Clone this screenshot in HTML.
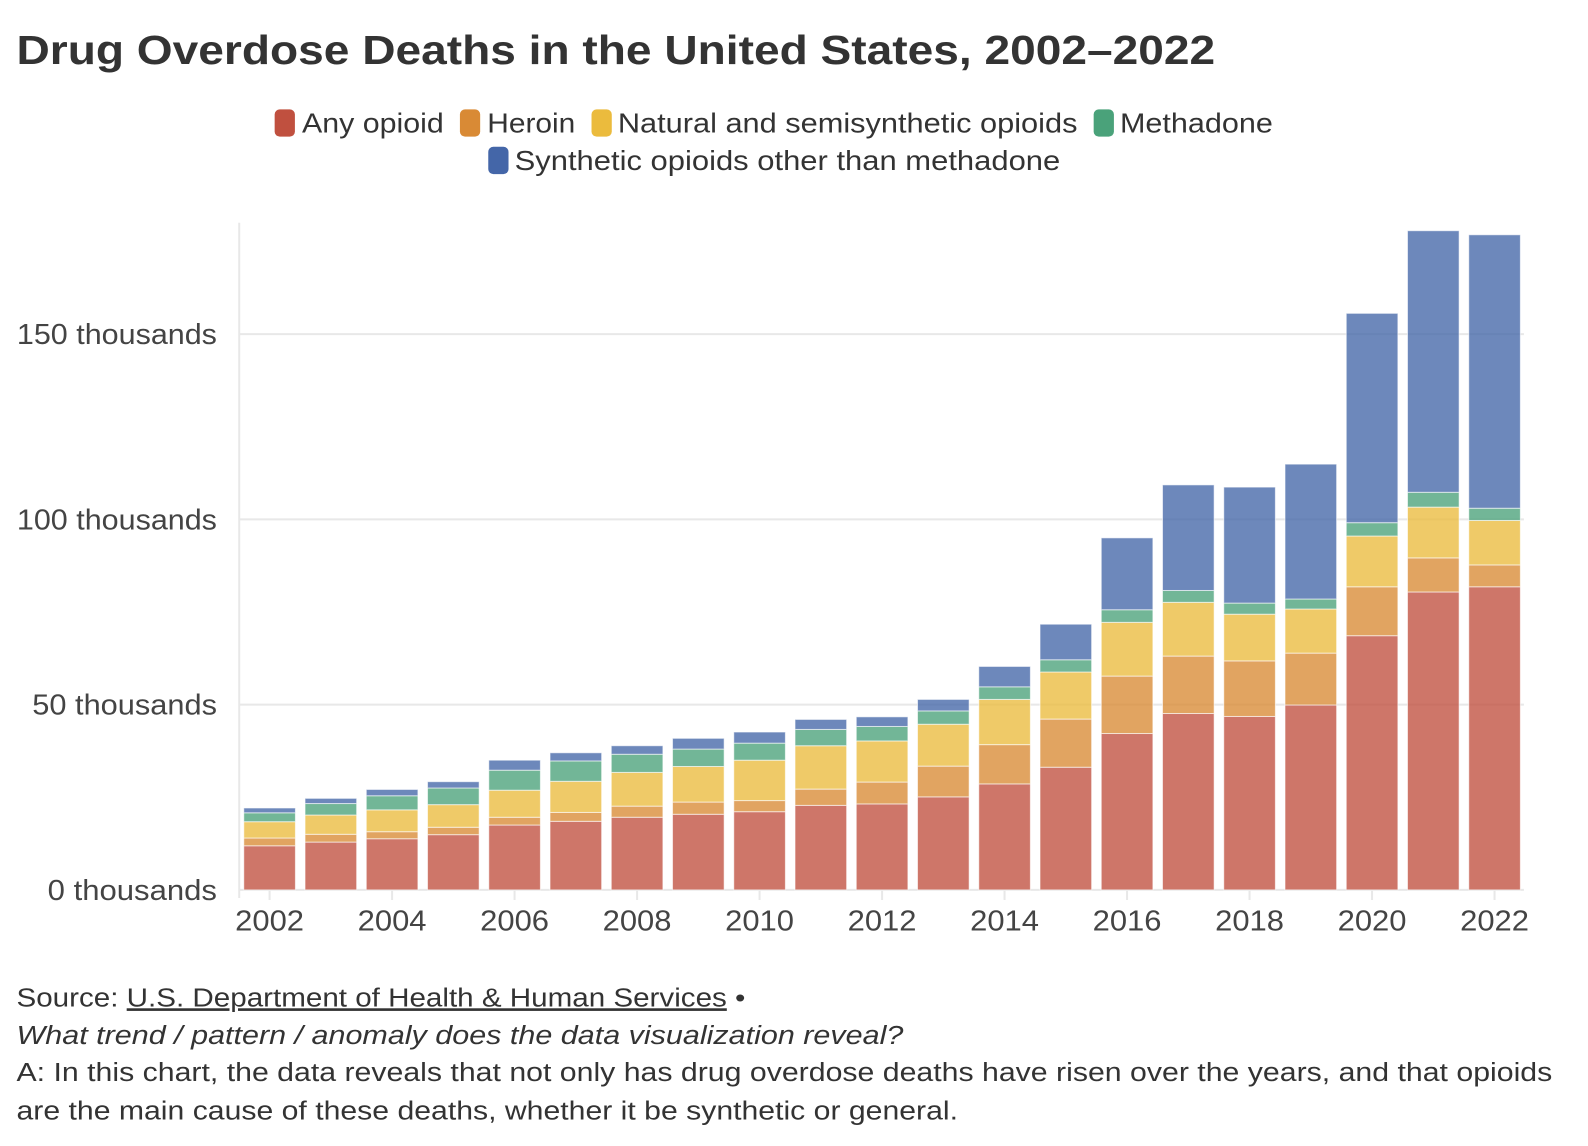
<!DOCTYPE html>
<html><head><meta charset="utf-8"><style>
html,body{margin:0;padding:0;background:#fff;}
svg{display:block;font-family:"Liberation Sans",sans-serif;}
</style></head><body>
<svg id="chart" width="1588" height="1146" viewBox="0 0 1568 1132" xmlns="http://www.w3.org/2000/svg">
<text x="16" y="63" font-size="40" font-weight="bold" fill="#333" textLength="1184" lengthAdjust="spacingAndGlyphs">Drug Overdose Deaths in the United States, 2002–2022</text>
<g font-size="27" fill="#333">
  <g><rect x="271" y="108" width="20" height="27" rx="5" fill="#c0503f"/><text x="298" y="131" textLength="140" lengthAdjust="spacingAndGlyphs">Any opioid</text></g>
  <g><rect x="454" y="108" width="20" height="27" rx="5" fill="#d98a35"/><text x="481" y="131" textLength="87" lengthAdjust="spacingAndGlyphs">Heroin</text></g>
  <g><rect x="584" y="108" width="20" height="27" rx="5" fill="#ebbb3d"/><text x="610" y="131" textLength="454" lengthAdjust="spacingAndGlyphs">Natural and semisynthetic opioids</text></g>
  <g><rect x="1080" y="108" width="20" height="27" rx="5" fill="#4aa27a"/><text x="1106" y="131" textLength="151" lengthAdjust="spacingAndGlyphs">Methadone</text></g>
  <g><rect x="482" y="145" width="20" height="27" rx="5" fill="#4466a8"/><text x="508" y="168" textLength="539" lengthAdjust="spacingAndGlyphs">Synthetic opioids other than methadone</text></g>
</g>
<g id="grid"></g>
<g id="bars"></g>
<g id="axes"></g>
<g font-size="26" fill="#333">
  <text x="16" y="994" textLength="720" lengthAdjust="spacingAndGlyphs">Source: <tspan text-decoration="underline">U.S. Department of Health &amp; Human Services</tspan> •</text>
  <text x="16" y="1031" font-style="italic" textLength="876" lengthAdjust="spacingAndGlyphs">What trend / pattern / anomaly does the data visualization reveal?</text>
  <text x="16" y="1068" textLength="1517" lengthAdjust="spacingAndGlyphs">A: In this chart, the data reveals that not only has drug overdose deaths have risen over the years, and that opioids</text>
  <text x="16" y="1106" textLength="930" lengthAdjust="spacingAndGlyphs">are the main cause of these deaths, whether it be synthetic or general.</text>
</g>
</svg>
<script>
const years = [2002,2003,2004,2005,2006,2007,2008,2009,2010,2011,2012,2013,2014,2015,2016,2017,2018,2019,2020,2021,2022];
const anyOpioid = [11.9,12.9,13.8,14.9,17.5,18.5,19.6,20.4,21.1,22.8,23.2,25.1,28.6,33.1,42.2,47.6,46.8,49.9,68.6,80.4,81.8];
const heroin = [2.1,2.1,1.9,2.0,2.1,2.4,3.0,3.3,3.0,4.4,5.9,8.3,10.6,13.0,15.5,15.5,15.0,14.0,13.2,9.2,5.9];
const natural = [4.4,5.2,5.9,6.1,7.3,8.4,9.1,9.6,10.9,11.7,11.1,11.3,12.2,12.7,14.5,14.5,12.6,11.9,13.7,13.7,12.0];
const methadone = [2.4,3.1,3.8,4.5,5.4,5.5,4.9,4.7,4.6,4.4,3.9,3.6,3.4,3.3,3.4,3.2,3.0,2.7,3.6,4.0,3.3];
const synthetic = [1.3,1.4,1.7,1.7,2.7,2.2,2.3,2.9,3.0,2.7,2.6,3.1,5.5,9.6,19.4,28.5,31.3,36.4,56.5,70.6,73.8];
const yTicks = [0,50,100,150];
const xTickYears = [2002,2004,2006,2008,2010,2012,2014,2016,2018,2020,2022];

const NS = "http://www.w3.org/2000/svg";
const x0 = 236, x1 = 1505, baseY = 879, pxPerK = 3.66;
const y = v => baseY - v * pxPerK;
const xc = yr => 266 + (yr - 2002) * 60.5;
const bw = 51;
function mk(tag, attrs, parent){ const e = document.createElementNS(NS, tag); for (const k in attrs) e.setAttribute(k, attrs[k]); parent.appendChild(e); return e; }

const grid = document.getElementById('grid');
const axes = document.getElementById('axes');
const bars = document.getElementById('bars');
yTicks.forEach(t => {
  const l = mk('line', {x1: x0, x2: x1, y1: y(t), y2: y(t), stroke: '#e8e8e8', 'stroke-width': 2}, grid);
  
  
  const label = t + ' thousands';
  const tx = mk('text', {x: 214, y: y(t) + 10, 'text-anchor': 'end', 'font-size': 28, fill: '#444', textLength: label.length * 15.2, lengthAdjust: 'spacingAndGlyphs'}, axes);
  
  
  tx.textContent = label;
});
const yAxis = mk('line', {x1: x0, x2: x0, y1: 220, y2: baseY + 8, stroke: '#e8e8e8', 'stroke-width': 2}, grid);


xTickYears.forEach(yr => {
  const tk = mk('line', {x1: xc(yr), x2: xc(yr), y1: baseY, y2: baseY + 10, stroke: '#e8e8e8', 'stroke-width': 2}, grid);
  
  
  const tx = mk('text', {x: xc(yr), y: 919, 'text-anchor': 'middle', 'font-size': 28, fill: '#444', textLength: 68, lengthAdjust: 'spacingAndGlyphs'}, axes);
  
  
  tx.textContent = yr;
});
const series = [
  ['any-opioid', anyOpioid, '#c0503f'],
  ['heroin', heroin, '#d98a35'],
  ['natural', natural, '#ebbb3d'],
  ['methadone', methadone, '#4aa27a'],
  ['synthetic', synthetic, '#4466a8']
];
years.forEach((yr, i) => {
  let cum = 0;
  series.forEach(([name, arr, col]) => {
    const v = arr[i];
    const r = mk('rect', {x: xc(yr) - bw/2, y: y(cum + v), width: bw, height: v * pxPerK, fill: col, 'fill-opacity': 0.78, stroke: '#fff', 'stroke-opacity': 0.6, 'stroke-width': 1}, bars);
    
    
    cum += v;
  });
});
</script>
</body></html>
